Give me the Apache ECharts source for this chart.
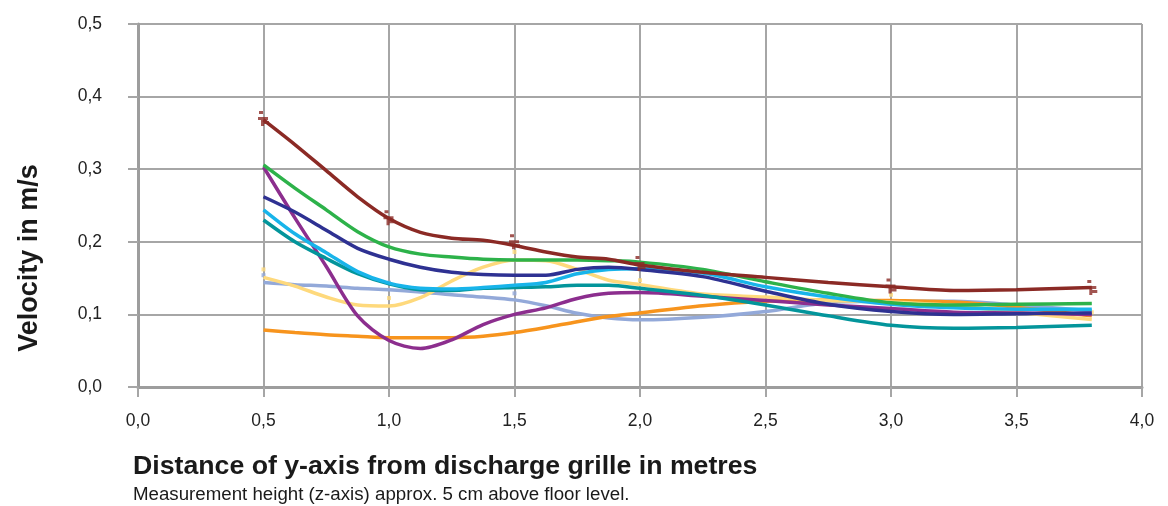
<!DOCTYPE html>
<html>
<head>
<meta charset="utf-8">
<script src="https://cdn.jsdelivr.net/npm/echarts@6/dist/echarts.min.js"></script>
<style>
html,body{margin:0;padding:0;background:#fff;}
#c{width:1168px;height:506px;}
</style>
</head>
<body>
<div id="c"></div>
<script>
// ---- data ----
var xs = [0.5, 0.625, 0.75, 0.875, 1.0, 1.125, 1.25, 1.375, 1.5, 1.625, 1.75, 1.875, 2.0, 2.25, 2.5, 2.75, 3.0, 3.25, 3.5, 3.8];
var darkRed  = [0.368, 0.334, 0.298, 0.262, 0.232, 0.213, 0.205, 0.202, 0.195, 0.186, 0.179, 0.176, 0.168, 0.158, 0.151, 0.144, 0.138, 0.133, 0.134, 0.137];
var green    = [0.306, 0.274, 0.244, 0.214, 0.193, 0.183, 0.179, 0.176, 0.175, 0.175, 0.175, 0.174, 0.172, 0.162, 0.145, 0.129, 0.116, 0.113, 0.114, 0.115];
var purple   = [0.303, 0.233, 0.166, 0.098, 0.064, 0.053, 0.065, 0.086, 0.100, 0.109, 0.122, 0.129, 0.130, 0.125, 0.119, 0.113, 0.108, 0.103, 0.102, 0.100];
var darkBlue = [0.262, 0.241, 0.216, 0.191, 0.176, 0.165, 0.158, 0.155, 0.154, 0.154, 0.162, 0.165, 0.162, 0.152, 0.132, 0.114, 0.104, 0.100, 0.101, 0.102];
var cyan     = [0.244, 0.211, 0.185, 0.159, 0.143, 0.136, 0.135, 0.137, 0.140, 0.144, 0.156, 0.162, 0.163, 0.157, 0.138, 0.124, 0.114, 0.109, 0.107, 0.107];
var teal     = [0.230, 0.200, 0.177, 0.156, 0.142, 0.134, 0.133, 0.136, 0.137, 0.138, 0.140, 0.140, 0.136, 0.126, 0.113, 0.098, 0.085, 0.081, 0.082, 0.085];
var yellow   = [0.151, 0.139, 0.124, 0.113, 0.1115, 0.123, 0.146, 0.165, 0.175, 0.174, 0.162, 0.147, 0.141, 0.128, 0.124, 0.119, 0.117, 0.112, 0.103, 0.093];
var slate    = [0.144, 0.141, 0.139, 0.136, 0.134, 0.131, 0.127, 0.124, 0.120, 0.112, 0.1015, 0.095, 0.0925, 0.096, 0.104, 0.116, 0.118, 0.118, 0.113, 0.105];
var orange   = [0.0785, 0.075, 0.072, 0.070, 0.068, 0.068, 0.068, 0.070, 0.075, 0.082, 0.090, 0.097, 0.102, 0.112, 0.118, 0.120, 0.119, 0.117, 0.110, 0.098];

var markX = [0.5, 1.0, 1.5, 2.0, 3.0, 3.8];
var redMarks = [0.370, 0.233, 0.200, 0.170, 0.139, 0.137];
var yellowMarks = [0.162, 0.1225, 0.186, 0.147, 0.127, 0.103];
var slateMarkX = [0.5, 1.0, 1.5, 2.0];
var slateMarks = [0.154, 0.1437, 0.129, 0.1023];

var xTickLabels = ['0,0','0,5','1,0','1,5','2,0','2,5','3,0','3,5','4,0'];
var yTickLabels = ['0,0','0,1','0,2','0,3','0,4','0,5'];

var xTitle = 'Distance of y-axis from discharge grille in metres';
var xSubtitle = 'Measurement height (z-axis) approx. 5 cm above floor level.';
var yTitle = 'Velocity in m/s';

// ---- build ----
function pairs(xv, yv){ return xv.map(function(x,i){ return [x, yv[i]]; }); }
var FONT = '"Liberation Sans", Arial, Helvetica, sans-serif';

var lineDefs = [
  ['Slate', slate, '#93a9d9'],
  ['Orange', orange, '#f7941d'],
  ['Yellow', yellow, '#fed97c'],
  ['Purple', purple, '#8c2e8e'],
  ['Teal', teal, '#03959b'],
  ['Cyan', cyan, '#18b4ea'],
  ['DarkBlue', darkBlue, '#2e3192'],
  ['Green', green, '#2db24a'],
  ['DarkRed', darkRed, '#8b2a25']
];

var series = lineDefs.map(function(d, i){
  return {
    name: d[0], type: 'line', data: pairs(xs, d[1]),
    smooth: 0.3, showSymbol: false, symbol: 'none',
    lineStyle: {color: d[2], width: 3.5}, z: 2 + i, silent: true
  };
});

series.push({
  name: 'SlateMarks', type: 'scatter', data: pairs(slateMarkX, slateMarks),
  symbol: 'rect', symbolSize: [4, 4], itemStyle: {color: '#93a9d9'}, z: 1
});
series.push({
  name: 'YellowMarks', type: 'scatter', data: pairs(markX, yellowMarks),
  symbol: 'rect', symbolSize: [4, 4], itemStyle: {color: '#fed97c'}, z: 1
});
series.push({
  name: 'RedMarks', type: 'scatter', data: pairs(markX, redMarks),
  symbol: 'path://M1,0h4v3h-4z M0,6h10v3h-10z M3,9h3v6h-3z M6,10h5v3h-5z',
  symbolSize: [11, 15], itemStyle: {color: '#8b2a25'}, z: 20
});

var chart = echarts.init(document.getElementById('c'), null, {renderer: 'canvas'});
chart.setOption({
  animation: false,
  backgroundColor: '#ffffff',
  grid: {left: 138, right: 26, top: 24, bottom: 119, containLabel: false},
  xAxis: {
    type: 'value', min: 0, max: 4, interval: 0.5,
    axisLine: {show: true, onZero: false, lineStyle: {color: '#9d9d9d', width: 3}},
    axisTick: {show: true, length: 10, lineStyle: {color: '#a6a6a6', width: 2}},
    splitLine: {show: true, lineStyle: {color: '#a6a6a6', width: 2}},
    axisLabel: {
      margin: 25, color: '#222', fontSize: 17.5, fontFamily: FONT,
      formatter: function(v){ return xTickLabels[Math.round(v / 0.5)]; }
    }
  },
  yAxis: {
    type: 'value', min: 0, max: 0.5, interval: 0.1,
    axisLine: {show: true, lineStyle: {color: '#9d9d9d', width: 3}},
    axisTick: {show: true, length: 10, lineStyle: {color: '#a6a6a6', width: 2}},
    splitLine: {show: true, lineStyle: {color: '#a6a6a6', width: 2}},
    axisLabel: {
      margin: 36, color: '#222', fontSize: 17.5, fontFamily: FONT,
      formatter: function(v){ return yTickLabels[Math.round(v / 0.1)]; }
    }
  },
  graphic: [
    {type: 'text', left: 133, top: 453,
      style: {text: xTitle, font: 'bold 26.7px ' + FONT, fill: '#1a1a1a'}},
    {type: 'text', left: 133, top: 485,
      style: {text: xSubtitle, font: '18.7px ' + FONT, fill: '#1a1a1a'}},
    {type: 'text', x: 30, y: 258, rotation: Math.PI / 2,
      style: {text: yTitle, font: 'bold 27px ' + FONT, fill: '#1a1a1a', align: 'center', verticalAlign: 'middle'}}
  ],
  series: series
});
</script>
</body>
</html>
